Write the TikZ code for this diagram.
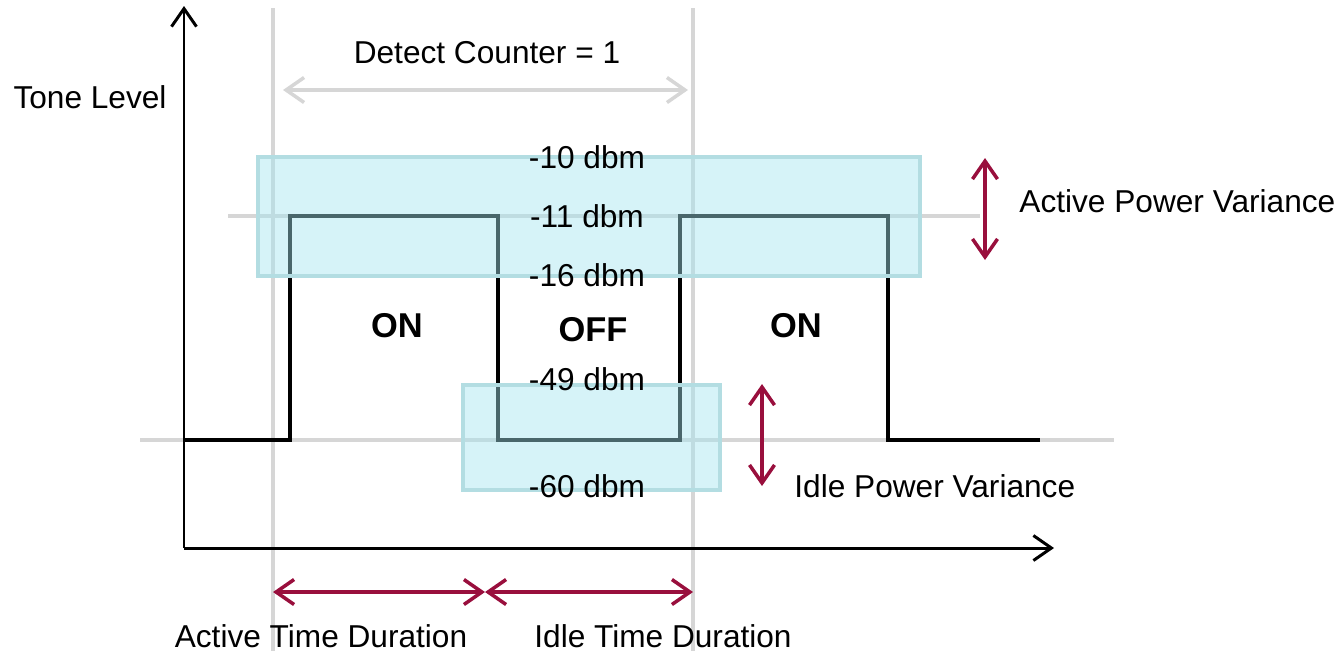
\documentclass[tikz,border=0pt]{standalone}
\usepackage{fontspec}
\setmainfont{Liberation Sans}
\usetikzlibrary{arrows.meta, positioning}
\definecolor{varRed}{HTML}{990F3D}
\definecolor{guideGray}{HTML}{D6D6D6}
\definecolor{bandFill}{HTML}{A4E4EF}
\definecolor{bandEdge}{HTML}{B3DDE2}
\tikzset{
  guide/.style={guideGray, line width=1.1pt},
  axisLine/.style={-{Straight Barb[length=1.8mm, width=2.5mm]}, black, line width=0.85pt},
  signal/.style={black, line width=1.15pt, line join=miter},
  band/.style={draw=bandEdge, fill=bandFill, line width=1pt, fill opacity=0.45},
  arrowV/.style={{Straight Barb[length=1.8mm, width=2.5mm]}-{Straight Barb[length=1.8mm, width=2.5mm]},
                 varRed, line width=1pt},
  arrowC/.style={{Straight Barb[length=1.8mm, width=2.5mm]}-{Straight Barb[length=1.8mm, width=2.5mm]},
                 guideGray, line width=1pt},
  level/.style={inner sep=1pt},
  state/.style={font=\fontsize{9.8}{12}\selectfont\bfseries},
}
\begin{document}
\begin{tikzpicture}[x=0.1mm, y=-0.1mm, font=\fontsize{9}{11}\selectfont]
  \useasboundingbox (0,0) rectangle (1342,651);

  % guide lines
  \coordinate (g1t) at (273,8);   \coordinate (g1b) at (273,651);
  \coordinate (g2t) at (693,8);   \coordinate (g2b) at (693,651);
  \coordinate (hHiL) at (228,216); \coordinate (hHiR) at (980,216);
  \coordinate (hLoL) at (140,440); \coordinate (hLoR) at (1114,440);
  \draw[guide] (g1t) -- (g1b);
  \draw[guide] (g2t) -- (g2b);
  \draw[guide] (hHiL) -- (hHiR);
  \draw[guide] (hLoL) -- (hLoR);

  % axes
  \coordinate (orig) at (184,548);
  \coordinate (yTop) at (184,6);
  \coordinate (xEnd) at (1054,548);
  \draw[axisLine] (orig) -- (yTop);
  \draw[axisLine] (orig) -- (xEnd);

  % tone signal
  \draw[signal] (184,440) -- (290,440) -- (290,216) -- (498,216) -- (498,440)
    -- (680,440) -- (680,216) -- (888,216) -- (888,440) -- (1040,440);

  % power bands
  \draw[band] (258,157) rectangle (920,276);
  \draw[band] (463,385) rectangle (720,490);

  % labels
  \node (tone) at (90,97) {Tone Level};
  \node (detect) at (487,53) {Detect Counter = 1};
  \node[level] (l10) at (587,157) {-10 dbm};
  \node[level] (l11) at (587,216) {-11 dbm};
  \node[level] (l16) at (587,275) {-16 dbm};
  \node[level] (l49) at (587,379) {-49 dbm};
  \node[level] (l60) at (587,486) {-60 dbm};
  \node[state] (on1) at (397,326) {ON};
  \node[state] (off) at (593,330) {OFF};
  \node[state] (on2) at (796,326) {ON};

  % detect counter span
  \coordinate (dcL) at (283,90);
  \coordinate (dcR) at (688,90);
  \draw[arrowC] (dcL) -- (dcR);

  % power variance
  \coordinate (apvT) at (985,158);
  \coordinate (apvB) at (985,260);
  \coordinate (apvM) at (985,201);
  \draw[arrowV] (apvT) -- (apvB);
  \node[right=2.2mm of apvM] (apv) {Active Power Variance};

  \coordinate (ipvT) at (762,384);
  \coordinate (ipvB) at (762,486);
  \draw[arrowV] (ipvT) -- (ipvB);
  \node[right=2mm of ipvB] (ipv) {Idle Power Variance};

  % time durations
  \coordinate (tA) at (273,592);
  \coordinate (tM) at (485,592);
  \coordinate (tB) at (693,592);
  \draw[arrowV] (tA) -- (tM);
  \draw[arrowV] (tM) -- (tB);
  \node (atd) at (321,636) {Active Time Duration};
  \node (itd) at (663,636) {Idle Time Duration};
\end{tikzpicture}
\end{document}
